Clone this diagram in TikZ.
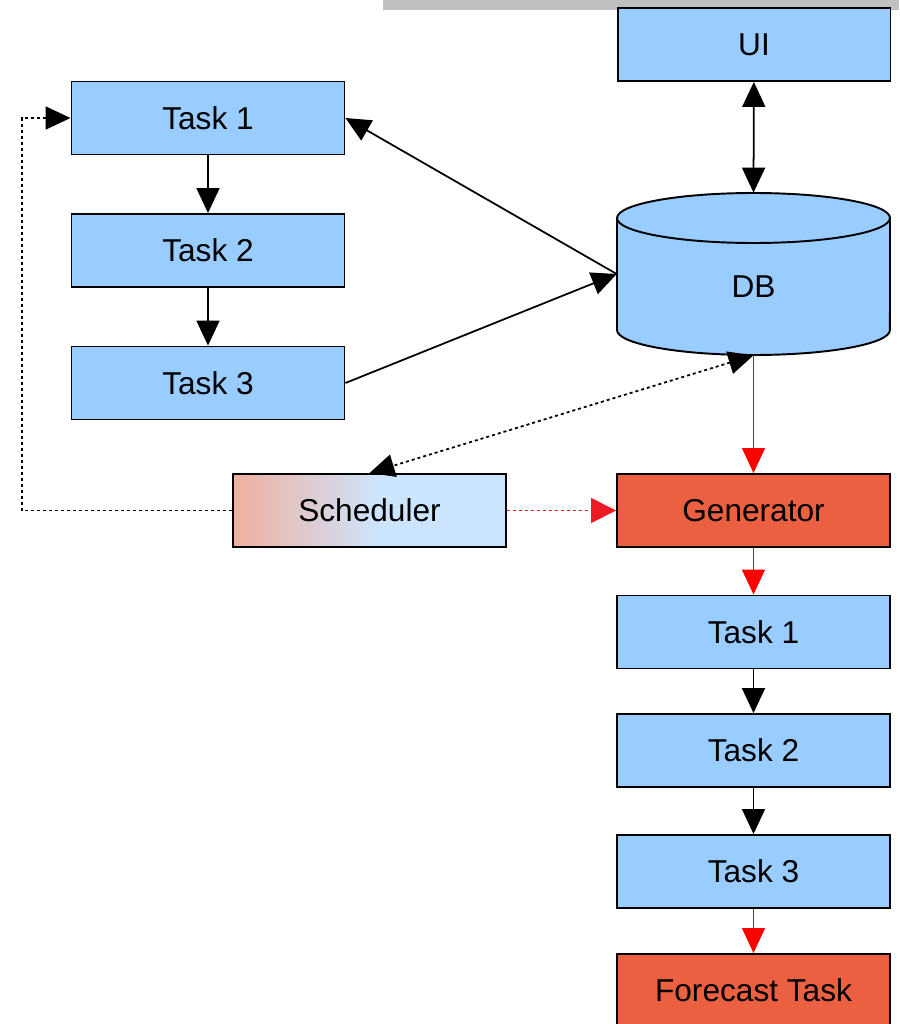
\documentclass[tikz,border=0pt]{standalone}
\usepackage{fontspec}
\setmainfont{Liberation Sans}
\usetikzlibrary{arrows.meta}

\definecolor{boxblue}{HTML}{99CCFF}
\definecolor{hotred}{HTML}{EA6040}
\definecolor{schedpink}{HTML}{F0B09E}
\definecolor{schedblue}{HTML}{CCE5FF}
\definecolor{bargray}{HTML}{C0C0C0}
\definecolor{tipred}{HTML}{ED1C24}

% pink on the left, blending into light blue by the middle
\pgfdeclarehorizontalshading{schedshade}{100bp}{color(0bp)=(schedpink); color(25bp)=(schedpink);
  color(52bp)=(schedblue); color(100bp)=(schedblue)}

\tikzset{
  box/.style={draw, line width=1.1pt, fill=boxblue, minimum width=5.46cm,
    minimum height=1.46cm, inner sep=0pt, font=\fontsize{18}{21}\selectfont},
  hot/.style={box, fill=hotred},
  link/.style={line width=1pt, -{Triangle[length=0.5cm, width=0.46cm]}},
  both/.style={line width=1pt, {Triangle[length=0.5cm, width=0.46cm]}-{Triangle[length=0.5cm, width=0.46cm]}},
  redlink/.style={link, red, line width=0.8pt},
  dots/.style={dash pattern=on 0.06cm off 0.06cm}
}

\begin{document}
\begin{tikzpicture}[x=0.02cm, y=-0.02cm]
  \useasboundingbox (0, 0) rectangle (899, 1024);

  % grey strip along the top
  \fill [bargray] (383, 0) rectangle (899, 10);

  % left chain
  \node [box] (task1l) at (208, 118) {Task 1};
  \node [box] (task2l) at (208, 250.5) {Task 2};
  \node [box] (task3l) at (208, 383) {Task 3};

  % right column
  \node [box] (ui) at (754, 44.5) {UI};

  % db cylinder
  \node [minimum width=5.46cm, minimum height=3.24cm, inner sep=0pt] (db) at (753.5, 274) {};
  \filldraw [line width=1.1pt, fill=boxblue] (617, 218) -- (617, 330)
    arc [start angle=180, end angle=360, x radius=2.73cm, y radius=0.5cm] -- (890, 218)
    arc [start angle=0, end angle=180, x radius=2.73cm, y radius=0.5cm] -- cycle;
  \draw [line width=1.1pt] (617, 218)
    arc [start angle=180, end angle=360, x radius=2.73cm, y radius=0.5cm];
  \node [font=\fontsize{18}{21}\selectfont] (dbtext) at (753.5, 287) {DB};

  \node [box, shading=schedshade] (sched) at (369.5, 510.5) {Scheduler};

  \node [hot] (gen) at (753.5, 510.5) {Generator};
  \node [box] (task1r) at (753.5, 632) {Task 1};
  \node [box] (task2r) at (753.5, 750.5) {Task 2};
  \node [box] (task3r) at (753.5, 871.5) {Task 3};
  \node [hot] (fc) at (753.5, 990.5) {Forecast Task};

  \coordinate (bend) at (22, 118);

  % connectors
  \draw [link] (task1l) -- (task2l);
  \draw [link] (task2l) -- (task3l);
  \draw [both] (ui) -- (db.north);
  \draw [link] (db.west) -- (task1l.east);
  \draw [link] (task3l.east) -- (db.west);
  \draw [both, dots] (db.south) -- (sched.north);
  \draw [link, dots] (sched.west) -| (bend) -- (task1l.west);

  \draw [redlink] (db.south) -- (gen.north);
  \draw [red, dots, line width=0.8pt, -{Triangle[length=0.5cm, width=0.5cm]}, tipred] (sched.east) -- (gen.west);
  \draw [redlink] (gen) -- (task1r);
  \draw [link] (task1r) -- (task2r);
  \draw [link] (task2r) -- (task3r);
  \draw [redlink] (task3r) -- (fc);

\end{tikzpicture}
\end{document}
